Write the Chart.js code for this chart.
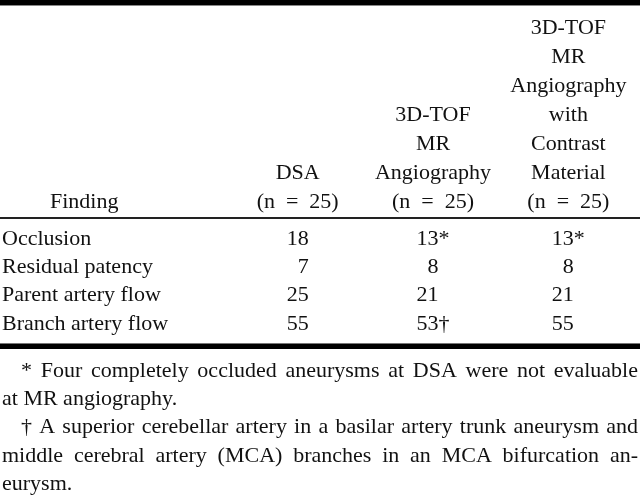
<!DOCTYPE html>
<html>
<head>
<meta charset="utf-8">
<style>
  html, body { margin: 0; padding: 0; background: #fff; }
  #wrap { width: 640px; height: 499px; position: relative; }
</style>
<script src="https://cdn.jsdelivr.net/npm/chart.js@4/dist/chart.umd.min.js"></script>
</head>
<body>
<div id="wrap"><canvas id="chart"></canvas></div>
<script>
// table contents
const findings = ["Occlusion", "Residual patency", "Parent artery flow", "Branch artery flow"];
const columns = ["DSA", "3D-TOF MR", "3D-TOF MR contrast"];
const nLabel = "(n\u2002=\u200225)";
const headerLines = [
  ["DSA", nLabel],
  ["3D-TOF", "MR", "Angiography", nLabel],
  ["3D-TOF", "MR", "Angiography", "with", "Contrast", "Material", nLabel],
];
const dsa = [18, 7, 25, 55];
const tof = [13, 8, 21, 53];
const tofContrast = [13, 8, 21, 55];
const dsaMarks = ["", "", "", ""];
const tofMarks = ["*", "", "", "†"];
const tofContrastMarks = ["*", "", "", ""];
const stubHeader = "Finding";
const footnoteLines = [
  "* Four completely occluded aneurysms at DSA were not evaluable",
  "at MR angiography.",
  "† A superior cerebellar artery in a basilar artery trunk aneurysm and",
  "middle cerebral artery (MCA) branches in an MCA bifurcation an-",
  "eurysm.",
];
const footnoteIndent = [true, false, true, false, false];
const footnoteJustify = [true, false, true, true, false];

const FONT = "Liberation Serif";
const INK = "#111";
const LINE = 29;

function cells(values, marks, col) {
  return values.map((v, i) => ({ x: columns[col], y: findings[i], v: v, mark: marks[i] }));
}

function justified(ctx, text, x0, x1, y) {
  const words = text.split(" ");
  let sum = 0;
  words.forEach(w => sum += ctx.measureText(w).width);
  const gap = (x1 - x0 - sum) / (words.length - 1);
  let x = x0;
  words.forEach(w => {
    ctx.fillText(w, x, y);
    x += ctx.measureText(w).width + gap;
  });
}

const tablePlugin = {
  id: "tablePlugin",
  beforeDraw(chart) {
    const { ctx, chartArea, width } = chart;
    ctx.save();
    ctx.fillStyle = "#fff";
    ctx.fillRect(0, 0, width, chart.height);
    // rules
    ctx.fillStyle = "#000";
    ctx.fillRect(0, 0, width, 5);
    ctx.fillStyle = "#888";
    ctx.fillRect(0, 5, width, 1);
    ctx.fillStyle = "#222";
    ctx.fillRect(0, chartArea.top - 8, width, 2);
    ctx.fillStyle = "#777";
    ctx.fillRect(0, chartArea.bottom + 5, width, 1);
    ctx.fillStyle = "#000";
    ctx.fillRect(0, chartArea.bottom + 6, width, 5);
    ctx.restore();
  },
  afterDatasetsDraw(chart) {
    const ctx = chart.ctx;
    ctx.save();
    ctx.font = "22px '" + FONT + "'";
    ctx.fillStyle = INK;
    ctx.textBaseline = "middle";
    chart.data.datasets.forEach((ds, di) => {
      const meta = chart.getDatasetMeta(di);
      // digits right aligned, widest entry (with its mark) centred in the column
      let numW = 0, fullW = 0;
      ds.data.forEach(c => {
        const w = ctx.measureText(String(c.v)).width;
        numW = Math.max(numW, w);
        fullW = Math.max(fullW, w + ctx.measureText(c.mark).width);
      });
      meta.data.forEach((pt, i) => {
        const cell = ds.data[i];
        const right = pt.x - fullW / 2 + numW;
        ctx.textAlign = "right";
        ctx.fillText(String(cell.v), right, pt.y);
        if (cell.mark) {
          ctx.textAlign = "left";
          ctx.fillText(cell.mark, right, pt.y);
        }
      });
    });
    ctx.restore();
  },
  afterDraw(chart) {
    const { ctx, chartArea } = chart;
    const xs = chart.scales.x;
    const pad = xs.options.ticks.padding;
    ctx.save();
    ctx.font = "22px '" + FONT + "'";
    ctx.fillStyle = INK;
    ctx.textBaseline = "middle";
    ctx.textAlign = "left";
    ctx.fillText(stubHeader, 50, xs.bottom - pad - LINE / 2);
    // footnotes
    footnoteLines.forEach((line, i) => {
      const y = chartArea.bottom + 33 + i * 28.3;
      const x0 = footnoteIndent[i] ? 21 : 2;
      if (footnoteJustify[i]) justified(ctx, line, x0, 638, y);
      else ctx.fillText(line, x0, y);
    });
    ctx.restore();
  },
};

new Chart(document.querySelector("#chart"), {
  type: "scatter",
  data: {
    datasets: [
      { label: columns[0], data: cells(dsa, dsaMarks, 0) },
      { label: columns[1], data: cells(tof, tofMarks, 1) },
      { label: columns[2], data: cells(tofContrast, tofContrastMarks, 2) },
    ],
  },
  options: {
    responsive: true,
    maintainAspectRatio: false,
    animation: false,
    events: [],
    elements: { point: { radius: 0, hoverRadius: 0 } },
    layout: { padding: { top: 14, left: 2, right: 4, bottom: 161 } },
    plugins: { legend: { display: false }, tooltip: { enabled: false } },
    scales: {
      x: {
        type: "category",
        labels: columns,
        position: "top",
        offset: true,
        grid: { display: false, drawTicks: false },
        border: { display: false },
        afterFit: (s) => { s.height = 7 * LINE + 8; },
        ticks: {
          padding: 8,
          autoSkip: false,
          maxRotation: 0,
          color: INK,
          font: { family: FONT, size: 22, lineHeight: LINE + "px" },
          callback: (val, i) => headerLines[i],
        },
      },
      y: {
        type: "category",
        labels: findings,
        position: "left",
        offset: true,
        grid: { display: false, drawTicks: false },
        border: { display: false },
        afterFit: (s) => { s.width = 228; },
        ticks: {
          crossAlign: "far",
          padding: 0,
          autoSkip: false,
          color: INK,
          font: { family: FONT, size: 22 },
        },
      },
    },
  },
  plugins: [tablePlugin],
});
</script>
</body>
</html>
